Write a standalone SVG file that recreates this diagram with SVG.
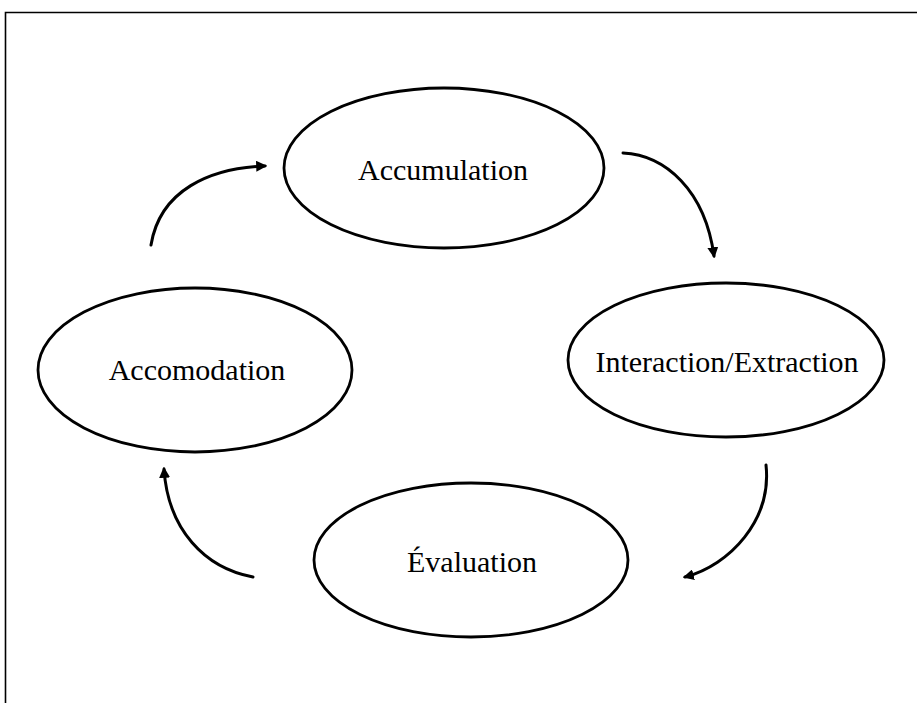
<svg xmlns="http://www.w3.org/2000/svg" width="917" height="703" viewBox="0 0 917 703">
<style>
.node{fill:#fff;stroke:#000;stroke-width:2.8}
.lbl{font-family:"Liberation Serif","Times New Roman",serif;font-size:30px;fill:#000;text-anchor:middle}
.conn{fill:none;stroke:#000;stroke-width:3;stroke-linecap:round}
.frame{fill:none;stroke:#000;stroke-width:1.6}
</style>
<defs>
<marker id="ah" viewBox="0 0 10 10" refX="8" refY="5" markerWidth="11" markerHeight="11" markerUnits="userSpaceOnUse" orient="auto">
<path d="M0,0 L10,5 L0,10 Z" fill="#000"/>
</marker>
</defs>
<rect width="917" height="703" fill="#fff"/>
<path class="frame" d="M5.5,703 L5.5,12.5 L917,12.5"/>
<g id="accumulation">
<ellipse class="node" cx="444" cy="168" rx="160" ry="80"/>
<text class="lbl" x="443" y="180">Accumulation</text>
</g>
<g id="interaction">
<ellipse class="node" cx="726" cy="360" rx="158" ry="77"/>
<text class="lbl" x="727" y="372">Interaction/Extraction</text>
</g>
<g id="evaluation">
<ellipse class="node" cx="471" cy="560" rx="157" ry="77"/>
<text class="lbl" x="472" y="572">Évaluation</text>
</g>
<g id="accomodation">
<ellipse class="node" cx="195" cy="370" rx="157" ry="82"/>
<text class="lbl" x="197" y="380">Accomodation</text>
</g>
<g id="connectors">
<path class="conn" d="M623,153 C665,155 705,190 714,256" marker-end="url(#ah)"/>
<path class="conn" d="M766,465 C772,520 730,565 685,577" marker-end="url(#ah)"/>
<path class="conn" d="M253,577 C205,568 168,530 164,469" marker-end="url(#ah)"/>
<path class="conn" d="M151,245 C160,190 210,168 265,166" marker-end="url(#ah)"/>
</g>
</svg>
